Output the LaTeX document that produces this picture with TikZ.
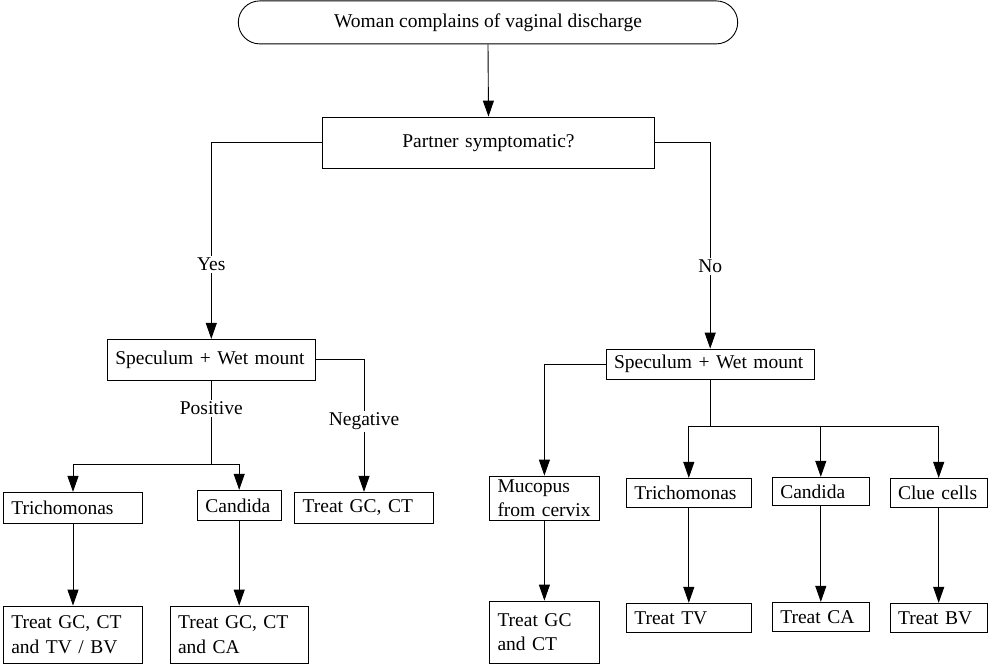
\documentclass[tikz,border=0pt]{standalone}
\usepackage{fontspec}
\setmainfont{Liberation Serif}
\usetikzlibrary{arrows.meta}
\begin{document}
\begin{tikzpicture}[x=1pt,y=-1pt,
  every node/.style={font=\fontsize{19.5}{24.5}\selectfont},
  box/.style={draw, line width=0.9pt, inner xsep=8pt, inner ysep=1pt, align=left},
  bx/.style n args={3}{box, minimum width=#1pt, minimum height=#2pt, text width=#3pt},
  conn/.style={line width=0.9pt},
  arr/.style={conn, -{Triangle[length=16pt,width=11pt]}},
  lbl/.style={fill=white, inner sep=2pt}
]
\useasboundingbox (0,0) rectangle (989,664);

% nodes
\node[draw, line width=0.9pt, rounded corners=21.5pt, minimum width=499.4pt, minimum height=43pt, inner sep=0pt, align=center] (start) at (488,22.4) {Woman complains of vaginal discharge};
\node[bx={332.4}{51.3}{316.4}, align=center] (partner) at (488.5,142.7) {Partner symptomatic?};

\node[bx={208}{40.7}{192}] (specL) at (211.3,359.7) {Speculum + Wet mount};
\node[bx={208.3}{30.3}{192.3}] (specR) at (710.2,364.2) {Speculum + Wet mount};

\node[bx={139.4}{30.7}{123.4}] (trichL) at (73,507.7) {Trichomonas};
\node[bx={83.7}{30.4}{67.7}] (candL) at (239.2,505.5) {Candida};
\node[bx={138.6}{30.7}{122.6}] (treatL) at (364,507.7) {Treat GC, CT};
\node[bx={139.4}{57.3}{123.4}] (treat1) at (73,634.7) {Treat GC, CT\\and TV / BV};
\node[bx={138.3}{57.3}{122.3}] (treat2) at (239.2,634.7) {Treat GC, CT\\and CA};

\node[bx={109.8}{44.7}{93.8}] (muco) at (544.4,498.4) {Mucopus\\from cervix};
\node[bx={109.8}{62.3}{93.8}] (treat3) at (544.4,632.2) {Treat GC\\and CT};
\node[bx={125}{28.7}{109}] (trichR) at (688.8,492.7) {Trichomonas};
\node[bx={97}{28.4}{81}] (candR) at (820.8,491.5) {Candida};
\node[bx={97.3}{28.7}{81.3}] (clue) at (938.7,492.7) {Clue cells};
\node[bx={125}{29}{109}] (treatTV) at (688.8,617.8) {Treat TV};
\node[bx={97}{28.7}{81}] (treatCA) at (820.8,616.7) {Treat CA};
\node[bx={97.3}{29}{81.3}] (treatBV) at (938.7,617.8) {Treat BV};

% connectors
\draw[arr] (start.south) -- (partner.north);
\draw[arr] (partner.west) -| node[lbl, pos=0.81] (yes) {Yes} (specL.north);
\draw[arr] (partner.east) -| node[lbl, pos=0.8] (no) {No} (specR.north);

\coordinate (jL) at (211.3,464);
\draw[conn] (specL.south) -- node[lbl, pos=0.33] (pos) {Positive} (jL);
\draw[arr] (jL) -| (trichL.north);
\draw[arr] (jL) -| (candL.north);
\draw[arr] (specL.east) -| node[lbl, pos=0.733] (neg) {Negative} (treatL.north);
\draw[arr] (trichL.south) -- (treat1.north);
\draw[arr] (candL.south) -- (treat2.north);

\draw[arr] (specR.west) -| (muco.north);
\coordinate (jR) at (710.2,426.3);
\draw[conn] (specR.south) -- (jR);
\draw[arr] (jR) -| (trichR.north);
\draw[arr] (jR) -| (candR.north);
\draw[arr] (jR) -| (clue.north);
\draw[arr] (muco.south) -- (treat3.north);
\draw[arr] (trichR.south) -- (treatTV.north);
\draw[arr] (candR.south) -- (treatCA.north);
\draw[arr] (clue.south) -- (treatBV.north);
\end{tikzpicture}
\end{document}
